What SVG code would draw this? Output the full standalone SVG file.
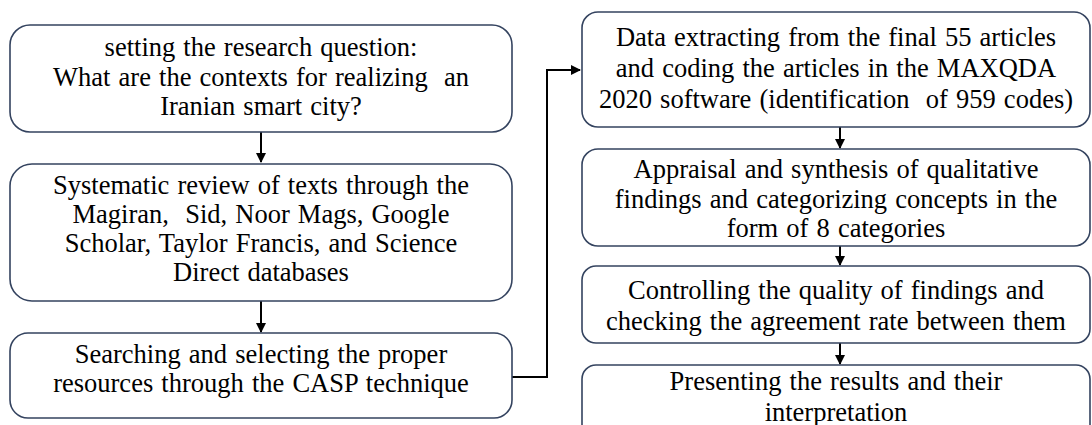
<svg xmlns="http://www.w3.org/2000/svg" width="1092" height="425" viewBox="0 0 1092 425">
  <defs>
    <marker id="arrow" viewBox="0 0 10 10" refX="9" refY="5" markerWidth="5" markerHeight="5" orient="auto" markerUnits="strokeWidth">
      <path d="M0,0 L10,5 L0,10 z" fill="#000"/>
    </marker>
    <style>
      .box { fill: #fff; stroke: #34435f; stroke-width: 1.6; }
      .lbl { font-family: "Liberation Serif", "Times New Roman", serif; font-size: 26.5px; word-spacing: 1.5px; fill: #000; text-anchor: middle; }
      .conn { fill: none; stroke: #000; stroke-width: 2; }
    </style>
  </defs>
  <rect width="1092" height="425" fill="#fff"/>

  <g id="connectors">
    <line class="conn" x1="261" y1="132" x2="261" y2="162" marker-end="url(#arrow)"/>
    <line class="conn" x1="261" y1="301" x2="261" y2="332" marker-end="url(#arrow)"/>
    <polyline class="conn" points="512,377 547,377 547,70 580,70" marker-end="url(#arrow)"/>
    <line class="conn" x1="840" y1="127" x2="840" y2="148" marker-end="url(#arrow)"/>
    <line class="conn" x1="840" y1="246" x2="840" y2="265" marker-end="url(#arrow)"/>
    <line class="conn" x1="840" y1="343" x2="840" y2="364" marker-end="url(#arrow)"/>
  </g>

  <g id="node-question">
    <rect class="box" x="10" y="25" width="502" height="107" rx="20"/>
    <text class="lbl" x="261" y="56">setting the research question:</text>
    <text class="lbl" x="261" y="86" xml:space="preserve">What are the contexts for realizing  an</text>
    <text class="lbl" x="261" y="115">Iranian smart city?</text>
  </g>

  <g id="node-review">
    <rect class="box" x="10" y="164" width="502" height="137" rx="22"/>
    <text class="lbl" x="261" y="194">Systematic review of texts through the</text>
    <text class="lbl" x="261" y="223" xml:space="preserve">Magiran,  Sid, Noor Mags, Google</text>
    <text class="lbl" x="261" y="252">Scholar, Taylor Francis, and Science</text>
    <text class="lbl" x="261" y="281">Direct databases</text>
  </g>

  <g id="node-search">
    <rect class="box" x="10" y="333" width="502" height="85" rx="18"/>
    <text class="lbl" x="261" y="363">Searching and selecting the proper</text>
    <text class="lbl" x="261" y="392">resources through the CASP technique</text>
  </g>

  <g id="node-extract">
    <rect class="box" x="582" y="12" width="508" height="115" rx="16"/>
    <text class="lbl" x="836" y="46">Data extracting from the final 55 articles</text>
    <text class="lbl" x="836" y="77">and coding the articles in the MAXQDA</text>
    <text class="lbl" x="836" y="108" xml:space="preserve">2020 software (identification  of 959 codes)</text>
  </g>

  <g id="node-appraisal">
    <rect class="box" x="582" y="149" width="508" height="97" rx="16"/>
    <text class="lbl" x="836" y="178">Appraisal and synthesis of qualitative</text>
    <text class="lbl" x="836" y="208">findings and categorizing concepts in the</text>
    <text class="lbl" x="836" y="237">form of 8 categories</text>
  </g>

  <g id="node-quality">
    <rect class="box" x="582" y="266" width="508" height="77" rx="14"/>
    <text class="lbl" x="836" y="299">Controlling the quality of findings and</text>
    <text class="lbl" x="836" y="330">checking the agreement rate between them</text>
  </g>

  <g id="node-present">
    <rect class="box" x="582" y="365" width="508" height="80" rx="14"/>
    <text class="lbl" x="836" y="390">Presenting the results and their</text>
    <text class="lbl" x="836" y="421">interpretation</text>
  </g>
</svg>
